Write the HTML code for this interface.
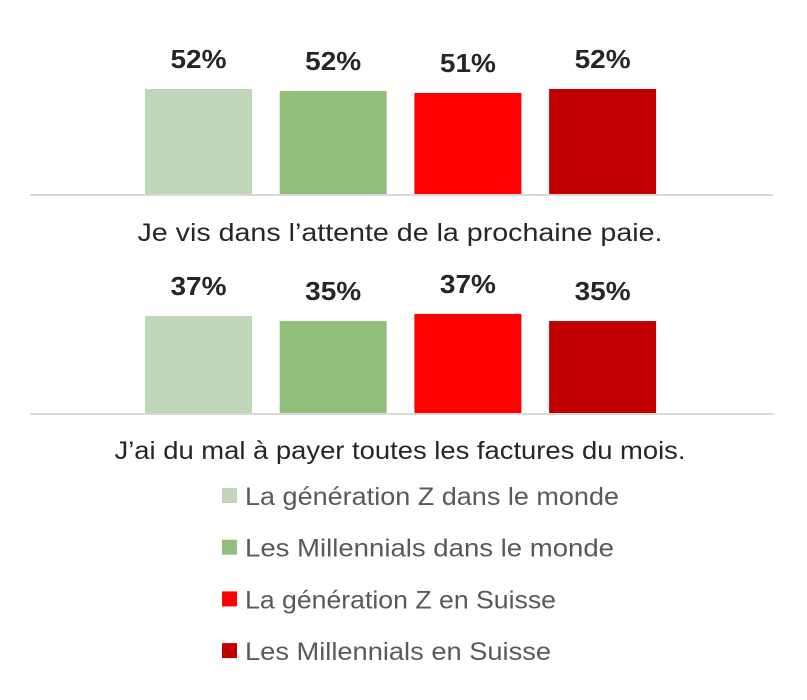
<!DOCTYPE html>
<html><head><meta charset="utf-8"><style>
body{margin:0;background:#fff;width:807px;height:695px;overflow:hidden;font-family:"Liberation Sans",sans-serif}
svg text{font-family:"Liberation Sans",sans-serif}
</style></head><body>
<svg id="chart" width="807" height="695"></svg>
<script>
const seriesNames=["La génération Z dans le monde","Les Millennials dans le monde","La génération Z en Suisse","Les Millennials en Suisse"];
const categories=["Je vis dans l’attente de la prochaine paie.","J’ai du mal à payer toutes les factures du mois."];
const valuesTop=[52.5,51.5,50.5,52.5];
const valuesBottom=[36.6,34.7,37.4,34.7];
const labelsTop=["52%","52%","51%","52%"];
const labelsBottom=["37%","35%","37%","35%"];
const colors=["#bfd6b7","#93bf7d","#ff0000","#c00000"];
const catWidths=[525,571];
const legendWidths=[374,369,311,306];
const svg=document.getElementById('chart');
const NS="http://www.w3.org/2000/svg";
function mk(t,a){const e=document.createElementNS(NS,t);for(const k in a)e.setAttribute(k,a[k]);svg.appendChild(e);return e;}
const barX=i=>145+i*134.7, barW=107;
const panels=[{vals:valuesTop,labs:labelsTop,base:194,scale:2.0,cy:241},{vals:valuesBottom,labs:labelsBottom,base:413,scale:2.65,cy:459}];
panels.forEach((p,pi)=>{
  p.vals.forEach((v,i)=>{
    const h=v*p.scale;
    const r=mk('rect',{x:barX(i),y:p.base-h,width:barW,height:h,fill:colors[i]});
    
    
    const t=mk('text',{x:barX(i)+barW/2,y:p.base-h-21,'text-anchor':'middle','font-size':'26','font-weight':'bold',fill:'#262626',textLength:56,lengthAdjust:'spacingAndGlyphs'});
    t.textContent=p.labs[i];
    
    
  });
  const l=mk('line',{x1:30,x2:773,y1:p.base+1,y2:p.base+1,stroke:'#d9d9d9','stroke-width':2});
  
  
  const c=mk('text',{x:400,y:p.cy,'text-anchor':'middle','font-size':'25',fill:'#262626',textLength:catWidths[pi],lengthAdjust:'spacingAndGlyphs'});
  c.textContent=categories[pi];
  
  
});
seriesNames.forEach((n,i)=>{
  const y=496+i*51.7;
  const r=mk('rect',{x:222,y:y-8,width:15,height:15,fill:colors[i]});
  
  
  const t=mk('text',{x:245,y:y+9,'font-size':'25',fill:'#595959',textLength:legendWidths[i],lengthAdjust:'spacingAndGlyphs'});
  t.textContent=n;
  
  
});
</script>
</body></html>
